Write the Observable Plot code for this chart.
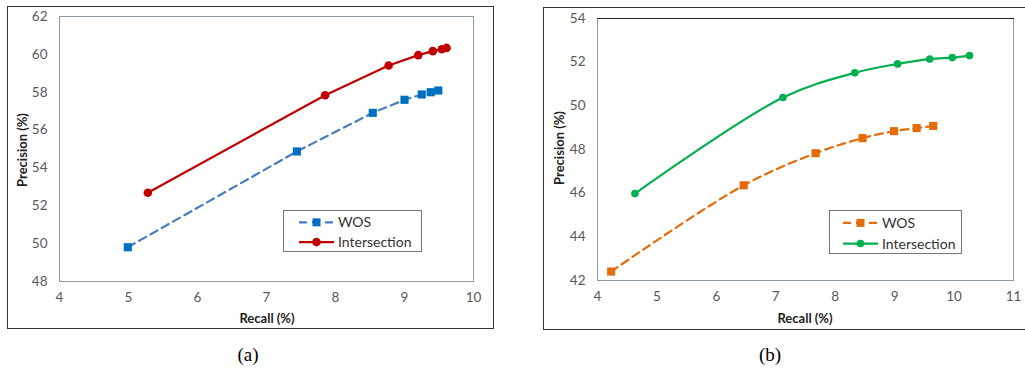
<!DOCTYPE html>
<html>
<head>
<meta charset="utf-8">
<script src="https://cdn.jsdelivr.net/npm/d3@7"></script>
<script src="https://cdn.jsdelivr.net/npm/@observablehq/plot@0.6"></script>
<style>
  html, body { margin: 0; padding: 0; background: #fff; }
  #root { position: relative; width: 1025px; height: 372px; overflow: hidden; font-family: Lato, "Open Sans", sans-serif; }
  .panel { position: absolute; }
  .border { position: absolute; border: 1.5px solid #333; box-sizing: border-box; }
  .xlab, .ylab { position: absolute; font-weight: bold; font-size: 13px; color: #222; white-space: nowrap; }
  .ylab { transform: translate(-50%, -50%) rotate(-90deg); }
  .xlab { transform: translate(-50%, -50%); }
  .cap { position: absolute; font-family: "Liberation Serif", "DejaVu Serif", serif; font-size: 19px; transform: translate(-50%, -50%); }
  .legend { position: absolute; border: 1px solid #777; background: #fff; box-sizing: border-box; font-size: 14px; color: #333; }
  .legend div { position: absolute; white-space: nowrap; }
</style>
</head>
<body>
<div id="root"></div>
<script>
// ---- Data: panel (a)
const recallA_WOS = [4.99, 7.44, 8.54, 9.00, 9.25, 9.38, 9.49];
const precA_WOS   = [49.81, 54.87, 56.91, 57.60, 57.88, 58.00, 58.09];
const recallA_Int = [5.28, 7.85, 8.77, 9.20, 9.41, 9.54, 9.61];
const precA_Int   = [52.69, 57.84, 59.41, 59.96, 60.17, 60.27, 60.34];
// ---- Data: panel (b)
const recallB_WOS = [4.23, 6.46, 7.67, 8.46, 8.99, 9.37, 9.65];
const precB_WOS   = [42.41, 46.36, 47.83, 48.52, 48.84, 48.98, 49.08];
const recallB_Int = [4.63, 7.12, 8.33, 9.05, 9.59, 9.97, 10.26];
const precB_Int   = [45.98, 50.38, 51.51, 51.92, 52.14, 52.21, 52.30];
// ---- Ticks
const xTicksA = [4, 5, 6, 7, 8, 9, 10];
const yTicksA = [48, 50, 52, 54, 56, 58, 60, 62];
const xTicksB = [4, 5, 6, 7, 8, 9, 10, 11];
const yTicksB = [42, 44, 46, 48, 50, 52, 54];
const seriesNames = ["WOS", "Intersection"];
const xTitle = "Recall (%)";
const yTitle = "Precision (%)";
const captions = ["(a)", "(b)"];

const toRows = (xs, ys) => xs.map((x, i) => ({x, y: ys[i]}));
const root = document.getElementById("root");
const fmt = d => String(d);

function makePanel(cfg) {
  const wos = toRows(cfg.xw, cfg.yw);
  const inter = toRows(cfg.xi, cfg.yi);
  const chart = Plot.plot({
    width: cfg.width, height: 335,
    marginLeft: cfg.ml, marginRight: cfg.mr, marginTop: cfg.mt, marginBottom: cfg.mb,
    style: {fontFamily: "Lato, 'Open Sans', sans-serif", fontSize: "13.5px", background: "transparent"},
    x: {domain: cfg.xdom, label: null},
    y: {domain: cfg.ydom, label: null},
    marks: [
      Plot.frame({stroke: "#8e9aa8", strokeWidth: 1}),
      cfg.topDark ? Plot.frame({anchor: "top", stroke: "#222", strokeWidth: 1.2}) : null,
      Plot.axisX({ticks: cfg.xt, tickFormat: fmt, tickSize: 0, tickPadding: 11, fill: "#595959", label: null}),
      Plot.axisY({ticks: cfg.yt, tickFormat: fmt, tickSize: 0, tickPadding: 12, fill: "#595959", label: null}),
      Plot.line(wos, {x: "x", y: "y", stroke: cfg.cw, strokeWidth: 2.2, strokeDasharray: "8,5", curve: cfg.curve}),
      Plot.line(inter, {x: "x", y: "y", stroke: cfg.ci, strokeWidth: 2.2, curve: cfg.curve}),
      Plot.dot(wos, {x: "x", y: "y", symbol: "square", r: 4.6, fill: cfg.mw, stroke: null}),
      Plot.dot(inter, {x: "x", y: "y", r: cfg.ri, fill: cfg.ci, stroke: null})
    ]
  });
  const wrap = document.createElement("div");
  wrap.className = "panel";
  wrap.style.left = cfg.left + "px"; wrap.style.top = "0px";
  wrap.appendChild(chart);
  root.appendChild(wrap);

  const b = document.createElement("div");
  b.className = "border";
  Object.assign(b.style, cfg.border);
  root.appendChild(b);

  const xl = document.createElement("div");
  xl.className = "xlab"; xl.textContent = xTitle;
  xl.style.left = cfg.xlab[0] + "px"; xl.style.top = cfg.xlab[1] + "px";
  root.appendChild(xl);
  const yl = document.createElement("div");
  yl.className = "ylab"; yl.textContent = yTitle;
  yl.style.left = cfg.ylab[0] + "px"; yl.style.top = cfg.ylab[1] + "px";
  root.appendChild(yl);

  const cap = document.createElement("div");
  cap.className = "cap"; cap.textContent = cfg.cap;
  cap.style.left = cfg.capPos[0] + "px"; cap.style.top = cfg.capPos[1] + "px";
  root.appendChild(cap);

  // legend
  const lg = document.createElement("div");
  lg.className = "legend";
  const [lx, ly, lw, lh] = cfg.legend;
  Object.assign(lg.style, {left: lx + "px", top: ly + "px", width: lw + "px", height: lh + "px"});
  const ns = "http://www.w3.org/2000/svg";
  const svg = document.createElementNS(ns, "svg");
  svg.setAttribute("width", lw); svg.setAttribute("height", lh);
  svg.style.position = "absolute"; svg.style.left = "0"; svg.style.top = "0";
  const s0 = cfg.sample[0], s1 = cfg.sample[1], r1 = lh * 0.27, r2 = lh * 0.74;
  svg.innerHTML =
    `<line x1="${s0}" x2="${s1}" y1="${r1}" y2="${r1}" stroke="${cfg.cw}" stroke-width="2.2" stroke-dasharray="8,5"/>` +
    `<rect x="${(s0+s1)/2-4}" y="${r1-4}" width="8" height="8" fill="${cfg.mw}"/>` +
    `<line x1="${s0}" x2="${s1}" y1="${r2}" y2="${r2}" stroke="${cfg.ci}" stroke-width="2.2"/>` +
    `<circle cx="${(s0+s1)/2}" cy="${r2}" r="${cfg.ri}" fill="${cfg.ci}"/>`;
  lg.appendChild(svg);
  seriesNames.forEach((n, i) => {
    const t = document.createElement("div");
    t.textContent = n;
    t.style.left = (s1 + 4) + "px";
    t.style.top = ((i === 0 ? r1 : r2) - 9) + "px";
    lg.appendChild(t);
  });
  root.appendChild(lg);
}

makePanel({
  left: 0, width: 500, ml: 59, mr: 27, mt: 16, mb: 54,
  xdom: [4, 10], ydom: [48, 62], xt: xTicksA, yt: yTicksA,
  xw: recallA_WOS, yw: precA_WOS, xi: recallA_Int, yi: precA_Int,
  cw: "#4a7ebb", mw: "#0070c0", ci: "#c00000", ri: 4.3, curve: "linear",
  border: {left: "7px", top: "6px", width: "487px", height: "323px"},
  xlab: [267, 318], ylab: [22, 150], cap: captions[0], capPos: [248, 355],
  legend: [283, 210, 139, 42], sample: [15, 50], topDark: false
});
makePanel({
  left: 520, width: 505, ml: 77, mr: 12, mt: 18, mb: 55,
  xdom: [4, 11], ydom: [42, 54], xt: xTicksB, yt: yTicksB,
  xw: recallB_WOS, yw: precB_WOS, xi: recallB_Int, yi: precB_Int,
  cw: "#e46c0a", mw: "#e46c0a", ci: "#00b050", ri: 3.8, curve: "catmull-rom",
  border: {left: "543px", top: "7px", width: "500px", height: "323px"},
  xlab: [805, 318], ylab: [559, 148], cap: captions[1], capPos: [770, 355],
  legend: [829, 210, 133, 44], sample: [13, 48], topDark: true
});
</script>
</body>
</html>
